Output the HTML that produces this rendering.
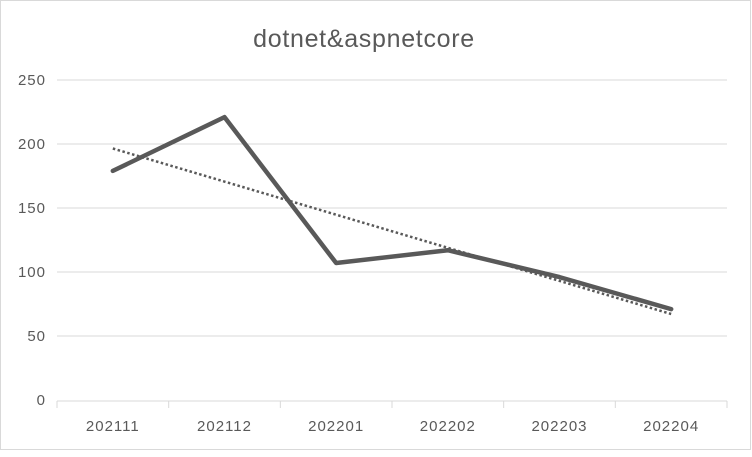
<!DOCTYPE html>
<html><head><meta charset="utf-8">
<style>
html,body{margin:0;padding:0;background:#fff;}
body{width:752px;height:452px;overflow:hidden;font-family:"Liberation Sans",Calibri,sans-serif;}
</style></head>
<body>
<svg id="chart" width="752" height="452" xmlns="http://www.w3.org/2000/svg">
<rect x="0.5" y="0.5" width="750" height="449" fill="#fff" stroke="#d9d9d9" stroke-width="1"/>
<text x="364" y="47" text-anchor="middle" font-size="25" letter-spacing="0.7" fill="#595959">dotnet&amp;aspnetcore</text>
<g id="grid"></g><g id="axes"></g><g id="series"></g>
</svg>
<script>
const categories=["202111","202112","202201","202202","202203","202204"];
const values=[179,221,107,117,96,71];
const yTicks=[0,50,100,150,200,250];
const NS="http://www.w3.org/2000/svg";
const x0=57,x1=727,y0=400,y1=80,yMax=250;
const bw=(x1-x0)/categories.length;
function xs(i){return x0+bw*(i+0.5);}
function ys(v){return y0-(v/yMax)*(y0-y1);}
function mk(tag,attrs,parent){const e=document.createElementNS(NS,tag);for(const k in attrs)e.setAttribute(k,attrs[k]);document.getElementById(parent).appendChild(e);return e;}
yTicks.forEach(t=>{
  if(t>0){const g=mk('line',{x1:x0,x2:x1,y1:ys(t),y2:ys(t),stroke:'#d9d9d9','stroke-width':1},'grid');
  
  }
  const l=mk('text',{x:46,y:ys(t)+5,'text-anchor':'end','font-size':15,'letter-spacing':1,fill:'#595959'},'axes');
  l.textContent=t;
  
  
});
const ax=mk('line',{x1:x0,x2:x1,y1:y0+1,y2:y0+1,stroke:'#d9d9d9','stroke-width':1},'axes');


for(let i=0;i<=categories.length;i++){
  const tk=mk('line',{x1:x0+bw*i,x2:x0+bw*i,y1:y0+1,y2:y0+8,stroke:'#d9d9d9','stroke-width':1},'axes');
  
  
}
categories.forEach((c,i)=>{
  const l=mk('text',{x:xs(i),y:431,'text-anchor':'middle','font-size':15,'letter-spacing':1,fill:'#595959'},'axes');
  l.textContent=c;
  
  
});
const n=values.length;let mx=0,my=0;values.forEach((v,i)=>{mx+=i;my+=v;});mx/=n;my/=n;
let sxy=0,sxx=0;values.forEach((v,i)=>{sxy+=(i-mx)*(v-my);sxx+=(i-mx)*(i-mx);});
const slope=sxy/sxx,icpt=my-slope*mx;
const tr=mk('line',{x1:xs(0),y1:ys(icpt),x2:xs(n-1),y2:ys(icpt+slope*(n-1)),stroke:'#595959','stroke-width':2.5,'stroke-dasharray':'2.5 2.5'},'series');


const pl=mk('polyline',{points:values.map((v,i)=>xs(i)+','+ys(v)).join(' '),fill:'none',stroke:'#595959','stroke-width':4.5,'stroke-linejoin':'round','stroke-linecap':'round'},'series');


</script>
</body></html>
